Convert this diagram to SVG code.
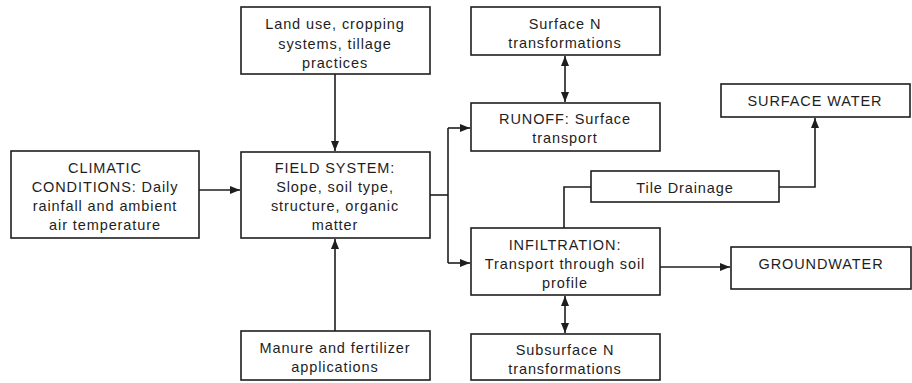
<svg xmlns="http://www.w3.org/2000/svg" width="912" height="383" viewBox="0 0 912 383">
<style>
.box{fill:#fff;stroke:#1e1e1e;stroke-width:1.6}
.t{font-family:"Liberation Sans",Arial,sans-serif;font-size:14.5px;letter-spacing:0.9px;fill:#1e1e1e;text-anchor:middle}
.c{fill:none;stroke:#1e1e1e;stroke-width:1.6}
</style>
<defs>
<marker id="ah" markerUnits="userSpaceOnUse" markerWidth="10" markerHeight="10" viewBox="0 0 10 10" refX="10" refY="5" orient="auto-start-reverse">
<path d="M0,1 L10,5 L0,9 Z" fill="#1e1e1e"/>
</marker>
</defs>
<rect width="912" height="383" fill="#fff"/>
<g id="connectors">
<path class="c" d="M199,190 H240" marker-end="url(#ah)"/>
<path class="c" d="M335,74 V151" marker-end="url(#ah)"/>
<path class="c" d="M335,331 V239" marker-end="url(#ah)"/>
<path class="c" d="M430,195 H448"/>
<path class="c" d="M448,128 V263"/>
<path class="c" d="M448,128 H470" marker-end="url(#ah)"/>
<path class="c" d="M448,263 H470" marker-end="url(#ah)"/>
<path class="c" d="M565,56 V102" marker-start="url(#ah)" marker-end="url(#ah)"/>
<path class="c" d="M565,296 V333" marker-start="url(#ah)" marker-end="url(#ah)"/>
<path class="c" d="M591,187 H564 V228"/>
<path class="c" d="M779,187 H815 V118" marker-end="url(#ah)"/>
<path class="c" d="M660,267 H730" marker-end="url(#ah)"/>
</g>
<g id="climatic">
<rect class="box" x="11" y="151" width="188" height="87"/>
<text class="t" x="105" y="173">CLIMATIC</text>
<text class="t" x="105" y="192">CONDITIONS: Daily</text>
<text class="t" x="105" y="211">rainfall and ambient</text>
<text class="t" x="105" y="230">air temperature</text>
</g>
<g id="landuse">
<rect class="box" x="241" y="7" width="189" height="67"/>
<text class="t" x="335" y="29">Land use, cropping</text>
<text class="t" x="335" y="48.5">systems, tillage</text>
<text class="t" x="335" y="68">practices</text>
</g>
<g id="field">
<rect class="box" x="241" y="152" width="189" height="86"/>
<text class="t" x="335" y="173">FIELD SYSTEM:</text>
<text class="t" x="335" y="192">Slope, soil type,</text>
<text class="t" x="335" y="211">structure, organic</text>
<text class="t" x="335" y="230">matter</text>
</g>
<g id="manure">
<rect class="box" x="241" y="331" width="189" height="49"/>
<text class="t" x="335" y="352.5">Manure and fertilizer</text>
<text class="t" x="335" y="371.5">applications</text>
</g>
<g id="surfaceN">
<rect class="box" x="471" y="7" width="189" height="48"/>
<text class="t" x="565" y="29">Surface N</text>
<text class="t" x="565" y="48">transformations</text>
</g>
<g id="runoff">
<rect class="box" x="471" y="103" width="189" height="48"/>
<text class="t" x="565" y="124">RUNOFF: Surface</text>
<text class="t" x="565" y="143">transport</text>
</g>
<g id="tile">
<rect class="box" x="591" y="171" width="188" height="31"/>
<text class="t" x="685" y="192.5">Tile Drainage</text>
</g>
<g id="infiltration">
<rect class="box" x="471" y="228" width="189" height="67"/>
<text class="t" x="565" y="250">INFILTRATION:</text>
<text class="t" x="565" y="269">Transport through soil</text>
<text class="t" x="565" y="288">profile</text>
</g>
<g id="subsurfaceN">
<rect class="box" x="471" y="334" width="189" height="46"/>
<text class="t" x="565" y="355">Subsurface N</text>
<text class="t" x="565" y="374">transformations</text>
</g>
<g id="surfacewater">
<rect class="box" x="721" y="84" width="189" height="33"/>
<text class="t" x="815" y="106">SURFACE WATER</text>
</g>
<g id="groundwater">
<rect class="box" x="731" y="247" width="180" height="42"/>
<text class="t" x="821" y="269">GROUNDWATER</text>
</g>
</svg>
